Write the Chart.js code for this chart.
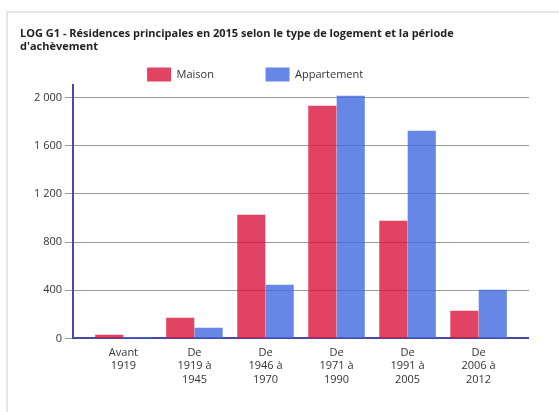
<!DOCTYPE html>
<html>
<head>
<meta charset="utf-8">
<script src="https://cdn.jsdelivr.net/npm/chart.js@4"></script>
<style>
  body { margin: 0; background: #fff; overflow: hidden; }
  .card { position: absolute; left: 6px; top: 11px; width: 600px; height: 500px; border: 2px solid #e6e6e6; }
  .wrap { position: absolute; left: 7px; top: 13px; width: 522px; height: 399px; }
</style>
</head>
<body>
<div class="card"></div>
<div class="wrap"><canvas id="barChart"></canvas></div>
<script>
// LOG G1 - residences principales 2015 par type et periode d'achevement
const periodes = [
  ["Avant", "1919"],
  ["De", "1919 à", "1945"],
  ["De", "1946 à", "1970"],
  ["De", "1971 à", "1990"],
  ["De", "1991 à", "2005"],
  ["De", "2006 à", "2012"]
];
const maison = [30, 172, 1027, 1931, 977, 229];
const appartement = [12, 89, 445, 2014, 1723, 404];
const yTicks = [0, 400, 800, 1200, 1600, 2000];

const axisBlue = "#4a4aa6";
const fontFamily = "'Open Sans', sans-serif";

// trailing spaces widen the legend items (the original spaces them far apart)
const legendGap = ["\u2003\u2003\u2003\u00a0\u00a0\u00a0", "\u2003\u2003\u2003\u00a0\u00a0"];

const ctx = document.getElementById("barChart");

new Chart(ctx, {
  type: "bar",
  data: {
    labels: periodes,
    datasets: [
      {
        label: "Maison",
        data: maison,
        backgroundColor: "rgba(220, 20, 60, 0.8)",
        barPercentage: 0.99,
      },
      {
        label: "Appartement",
        data: appartement,
        backgroundColor: "rgba(65, 105, 225, 0.8)",
        barPercentage: 0.99,
      },
    ],
  },
  options: {
    responsive: true,
    maintainAspectRatio: false,
    animation: false,
    layout: {
      padding: { left: 13, right: 0, top: 0, bottom: 18 },
    },
    scales: {
      x: {
        // extra room before first and after last group, like the original
        afterBuildTicks: (scale) => {
          scale._startValue -= 0.21;
          scale._valueRange += 0.42;
        },
        grid: { display: false, drawTicks: false },
        border: { color: axisBlue, width: 2 },
        ticks: {
          color: "#333",
          padding: 8,
          maxRotation: 0,
          font: { family: fontFamily, size: 11 },
        },
      },
      y: {
        min: 0,
        max: 2100,
        afterBuildTicks: (scale) => {
          scale.ticks = yTicks.map((v) => ({ value: v }));
        },
        afterFit: (scale) => {
          scale.width = 53;
        },
        grid: { color: "#9a9a9a", tickLength: 8 },
        border: { color: axisBlue, width: 2 },
        ticks: {
          color: "#333",
          padding: 3,
          font: { family: fontFamily, size: 11 },
          callback: (v) => String(v).replace(/\B(?=(\d{3})+(?!\d))/g, " "),
        },
      },
    },
    plugins: {
      title: {
        display: true,
        align: "start",
        text: [
          "LOG G1 - Résidences principales en 2015 selon le type de logement et la période",
          "d'achèvement",
        ],
        color: "#222",
        font: { family: fontFamily, size: 11, weight: "bold", lineHeight: 1.2 },
        padding: { top: 14, bottom: 4 },
      },
      legend: {
        position: "top",
        maxHeight: 28,
        labels: {
          boxWidth: 24,
          boxHeight: 14,
          padding: 10,
          color: "#333",
          font: { family: fontFamily, size: 11 },
          generateLabels: (chart) =>
            Chart.defaults.plugins.legend.labels.generateLabels(chart).map((item, i) => {
              item.text = item.text + legendGap[i];
              return item;
            }),
        },
      },
      tooltip: { enabled: false },
    },
  },
});
</script>
</body>
</html>
